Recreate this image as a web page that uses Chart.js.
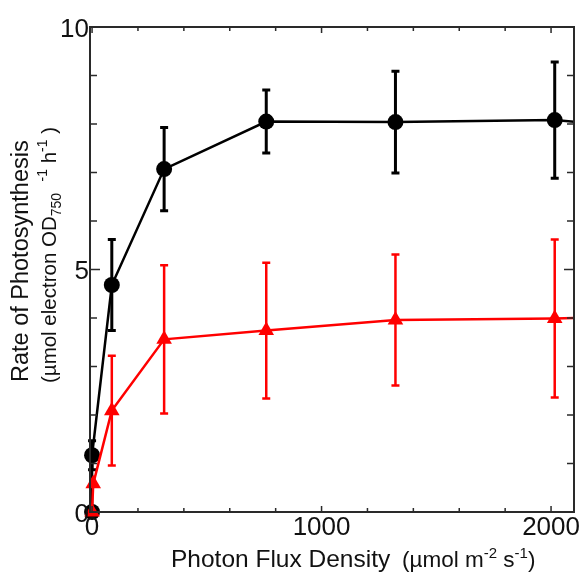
<!DOCTYPE html>
<html>
<head>
<meta charset="utf-8">
<script src="https://cdn.jsdelivr.net/npm/chart.js@4"></script>
<style>
  html, body { margin: 0; padding: 0; background: #fff; }
</style>
</head>
<body>
<canvas id="c" width="583" height="572"></canvas>
<script>
// Fotosíntesis vs densidad de flujo de fotones — dos curvas con barras de error
const blackX   = [0, 0, 86, 314, 759, 1322, 2016, 2250];
const blackY   = [0, 1.17, 4.68, 7.07, 8.05, 8.04, 8.08, 7.98];
const blackErr = [0, 0.3, 0.94, 0.86, 0.65, 1.05, 1.2, 0];

const redX   = [0, 5, 86, 314, 759, 1322, 2016, 2250];
const redY   = [0, 0.58, 2.09, 3.56, 3.74, 3.96, 3.99, 4.02];
const redErr = [0, 0, 1.13, 1.53, 1.4, 1.35, 1.63, 0];

const xMajor = [0, 1000, 2000];
const yMajor = [0, 5, 10];

const FONT = '"Liberation Sans", Arial, sans-serif';

function pts(xs, ys) { return xs.map((x, i) => ({ x, y: ys[i] })); }

function rich(ctx, parts, x, y, rot) {
  ctx.save();
  ctx.translate(x, y);
  if (rot) ctx.rotate(-Math.PI / 2);
  let cx = 0;
  parts.forEach(p => {
    ctx.font = p.size + 'px ' + FONT;
    ctx.fillText(p.t, cx, p.dy || 0);
    cx += ctx.measureText(p.t).width;
  });
  ctx.restore();
}

const errorBars = {
  id: 'errorBars',
  beforeDatasetsDraw(chart) {
    const { ctx, chartArea: a, scales: { x, y } } = chart;
    ctx.save();
    ctx.beginPath();
    ctx.rect(a.left - 15, a.top - 5, a.right - a.left + 15, a.bottom - a.top + 20);
    ctx.clip();
    chart.data.datasets.forEach(ds => {
      ctx.strokeStyle = ds.borderColor;
      ctx.lineWidth = ds.errWidth;
      ds.data.forEach((p, i) => {
        const e = ds.err[i];
        if (!e) return;
        const px = x.getPixelForValue(p.x);
        const y1 = y.getPixelForValue(p.y + e), y2 = y.getPixelForValue(p.y - e);
        ctx.beginPath();
        ctx.moveTo(px, y1); ctx.lineTo(px, y2);
        ctx.moveTo(px - 4, y1); ctx.lineTo(px + 4, y1);
        ctx.moveTo(px - 4, y2); ctx.lineTo(px + 4, y2);
        ctx.stroke();
      });
    });
    ctx.restore();
  }
};

const frame = {
  id: 'frame',
  afterDraw(chart) {
    const { ctx, chartArea: a, scales: { x, y } } = chart;
    ctx.save();
    ctx.strokeStyle = '#2a2a2a';
    ctx.lineWidth = 2;
    ctx.strokeRect(a.left, a.top, a.right - a.left, a.bottom - a.top);
    ctx.lineWidth = 1.5;
    ctx.beginPath();
    for (let v = 0; v <= 2100; v += 200) {
      const px = x.getPixelForValue(v);
      const len = v % 1000 === 0 ? 6 : 4;
      ctx.moveTo(px, a.bottom); ctx.lineTo(px, a.bottom - len);
      ctx.moveTo(px, a.top); ctx.lineTo(px, a.top + len);
    }
    for (let v = 0; v <= 10; v += 1) {
      const py = y.getPixelForValue(v);
      const len = v % 5 === 0 ? 10 : 7;
      ctx.moveTo(a.left, py); ctx.lineTo(a.left + len, py);
      ctx.moveTo(a.right, py); ctx.lineTo(a.right - len, py);
    }
    ctx.stroke();

    ctx.fillStyle = '#111';
    ctx.font = '26px ' + FONT;
    ctx.textAlign = 'right';
    ctx.textBaseline = 'alphabetic';
    yMajor.forEach(v => ctx.fillText(String(v), a.left - 1, y.getPixelForValue(v) + 9.5));
    ctx.textAlign = 'center';
    xMajor.forEach(v => ctx.fillText(String(v), x.getPixelForValue(v), 535));

    ctx.textAlign = 'left';
    rich(ctx, [{ t: 'Photon Flux Density', size: 24.5 }], 171, 567);
    rich(ctx, [
      { t: '(\u00b5mol m', size: 22.5 }, { t: '-2', size: 15, dy: -9 },
      { t: ' s', size: 22.5 }, { t: '-1', size: 15, dy: -9 }, { t: ')', size: 22.5 }
    ], 402, 567);
    rich(ctx, [{ t: 'Rate of Photosynthesis', size: 23.5 }], 28, 382, true);
    rich(ctx, [
      { t: '(\u00b5mol electron OD', size: 20.5 }, { t: '750', size: 14, dy: 5 },
      { t: '  ', size: 20.5 }, { t: '-1', size: 14, dy: -9 },
      { t: ' h', size: 20.5 }, { t: '-1', size: 14, dy: -9 }, { t: ' )', size: 20.5 }
    ], 56, 383, true);
    ctx.restore();
  }
};

new Chart(document.getElementById('c'), {
  type: 'line',
  data: {
    datasets: [
      {
        label: 'red', data: pts(redX, redY), err: redErr, errWidth: 2.5,
        borderColor: '#ff0000', backgroundColor: '#ff0000', borderWidth: 2.5,
        pointStyle: 'triangle', pointRadius: 9, pointBorderWidth: 0,
        clip: { left: 15, top: 5, right: 0, bottom: 15 }
      },
      {
        label: 'black', data: pts(blackX, blackY), err: blackErr, errWidth: 3,
        borderColor: '#000', backgroundColor: '#000', borderWidth: 2.5,
        pointStyle: 'circle', pointRadius: 8, pointBorderWidth: 0,
        clip: { left: 15, top: 5, right: 0, bottom: 15 }
      }
    ]
  },
  options: {
    responsive: false,
    animation: false,
    layout: { padding: { top: 27, right: 8, left: 0, bottom: 0 } },
    plugins: { legend: { display: false }, tooltip: { enabled: false } },
    scales: {
      x: {
        type: 'linear', min: -9, max: 2100,
        grid: { display: false }, border: { display: false },
        ticks: { display: false },
        afterFit(s) { s.height = 60; }
      },
      y: {
        min: 0, max: 10,
        grid: { display: false }, border: { display: false },
        ticks: { display: false },
        afterFit(s) { s.width = 90; }
      }
    }
  },
  plugins: [errorBars, frame]
});
</script>
</body>
</html>
